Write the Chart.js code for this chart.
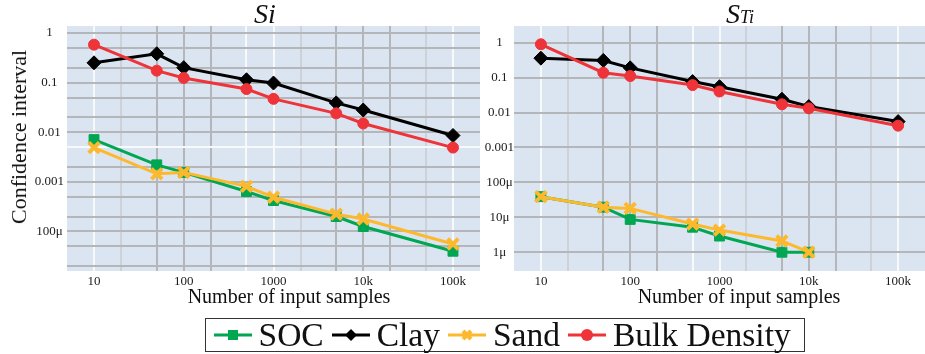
<!DOCTYPE html>
<html><head><meta charset="utf-8">
<script src="https://cdn.jsdelivr.net/npm/chart.js@4.4.1/dist/chart.umd.min.js"></script>
<style>
body{margin:0;background:#fff;width:925px;height:354px;overflow:hidden;position:relative;font-family:"Liberation Serif","Times New Roman",serif;color:#111}
canvas{position:absolute;top:0}
#c1{left:0}
#c2{left:470px}
.t{position:absolute;white-space:nowrap;line-height:1}
.title{top:0;font-size:28px;font-style:italic;transform:translateX(-50%)}
.xt{top:286px;font-size:20px;transform:translateX(-50%)}
#yt{left:19px;top:137px;font-size:22px;transform:translate(-50%,-50%) rotate(-90deg)}
#legend{position:absolute;left:205px;top:318px;width:600px;height:34px;box-sizing:border-box;border:1.5px solid #333;display:flex;align-items:center;padding-left:7.5px;font-size:33.5px;line-height:1}
#legend .it{display:flex;align-items:center;margin-right:8px}
#legend svg{margin-right:7px}
</style></head>
<body>
<canvas id="c1" width="483" height="292"></canvas>
<canvas id="c2" width="458" height="292"></canvas>
<div class="t title" style="left:265px">Si</div>
<div class="t title" style="left:740px">S<span style="font-size:18px">Ti</span></div>
<div class="t" id="yt">Confidence interval</div>
<div class="t xt" style="left:289px">Number of input samples</div>
<div class="t xt" style="left:739px">Number of input samples</div>
<div id="legend">
  <div class="it"><svg width="38" height="16"><line x1="0" y1="8" x2="38" y2="8" stroke="#00a651" stroke-width="3"/><rect x="14" y="3" width="10" height="10" fill="#00a651"/></svg><span>SOC</span></div>
  <div class="it"><svg width="38" height="16"><line x1="0" y1="8" x2="38" y2="8" stroke="#000" stroke-width="3"/><polygon points="19,2 25,8 19,14 13,8" fill="#000"/></svg><span>Clay</span></div>
  <div class="it"><svg width="38" height="16"><line x1="0" y1="8" x2="38" y2="8" stroke="#fdb92e" stroke-width="3"/><path d="M15,4 L23,12 M15,12 L23,4" stroke="#fdb92e" stroke-width="4"/></svg><span>Sand</span></div>
  <div class="it"><svg width="38" height="16"><line x1="0" y1="8" x2="38" y2="8" stroke="#ee3438" stroke-width="3"/><circle cx="19" cy="8" r="6" fill="#ee3438"/></svg><span>Bulk Density</span></div>
</div>
<script>
// ---- data ----
const sampleSizes = [10, 50, 100, 500, 1000, 5000, 10000, 100000];
const sampleSizesTiFine = [10, 50, 100, 500, 1000, 5000, 10000];
const seriesNames = ['SOC', 'Clay', 'Sand', 'Bulk Density'];

// Si panel
const siSOC  = [0.0071, 0.0022, 0.00155, 0.00064, 0.00042, 0.0002, 0.000126, 0.00004];
const siClay = [0.25, 0.38, 0.2, 0.114, 0.098, 0.039, 0.028, 0.0086];
const siSand = [0.0049, 0.00145, 0.00155, 0.00081, 0.00049, 0.000224, 0.000178, 0.000056];
const siBulk = [0.58, 0.174, 0.124, 0.074, 0.047, 0.024, 0.015, 0.0049];

// STi panel
const stiSOC  = [3.9e-5, 1.95e-5, 8.7e-6, 5.2e-6, 2.9e-6, 1.0e-6, 1.0e-6];
const stiClay = [0.36, 0.31, 0.19, 0.077, 0.055, 0.024, 0.0148, 0.0055];
const stiSand = [3.9e-5, 1.95e-5, 1.8e-5, 6.4e-6, 4.3e-6, 2.1e-6, 1.0e-6];
const stiBulk = [0.9, 0.138, 0.111, 0.061, 0.040, 0.0172, 0.0132, 0.0042];

// axis ranges and ticks
const xMin = 5, xMax = 2e5;
const xTickValues = [10, 100, 1000, 10000, 100000];
const xTickLabels = ['10', '100', '1000', '10k', '100k'];
const xGridValues = [10, 20, 50, 100, 200, 500, 1000, 2000, 5000, 10000, 20000, 50000, 100000];
const siYTickValues = [1, 0.1, 0.01, 0.001, 1e-4];
const siYTickLabels = ['1', '0.1', '0.01', '0.001', '100\u03bc'];
const siYGridValues = [1, 0.5, 0.2, 0.1, 0.05, 0.02, 0.01, 0.005, 0.002, 0.001, 5e-4, 2e-4, 1e-4, 5e-5, 2e-5];
const stiYTickValues = [1, 0.1, 0.01, 0.001, 1e-4, 1e-5, 1e-6];
const stiYTickLabels = ['1', '0.1', '0.01', '0.001', '100\u03bc', '10\u03bc', '1\u03bc'];
const stiYGridValues = [1, 0.1, 0.01, 0.001, 1e-4, 1e-5, 1e-6];

// ---- styling helpers ----
const key = v => Math.round(Math.log10(v) * 1000);
function labelMap(vals, labels) { const m = {}; vals.forEach((v, i) => m[key(v)] = labels[i]); return m; }
const DARK = '#b4b6b9', LIGHT = '#cdd2d8', WHITE = '#f7f9fb', NONE = 'rgba(0,0,0,0)';
const xGridStyle = {10: WHITE, 20: LIGHT, 50: DARK, 100: DARK, 200: DARK, 500: WHITE, 1000: WHITE, 2000: LIGHT, 5000: DARK, 10000: DARK, 20000: DARK, 50000: LIGHT, 100000: WHITE};
const colors = {SOC: '#00a651', Clay: '#000000', Sand: '#fdb92e', 'Bulk Density': '#ee3438'};
const styles = {
  SOC: {pointStyle: 'rect', pointRadius: 7, pointBorderWidth: 1, order: 3},
  Clay: {pointStyle: 'rectRot', pointRadius: 7, pointBorderWidth: 1, order: 2},
  Sand: {pointStyle: 'crossRot', pointRadius: 7.5, pointBorderWidth: 4, order: 1},
  'Bulk Density': {pointStyle: 'circle', pointRadius: 5.5, pointBorderWidth: 1, order: 0}
};

const bgPlugin = {
  id: 'bg',
  beforeDraw(chart) {
    const {ctx, chartArea: a} = chart;
    ctx.save(); ctx.fillStyle = '#dbe5f1';
    ctx.fillRect(a.left, a.top, a.right - a.left, a.bottom - a.top);
    ctx.restore();
  }
};

function ds(name, xs, ys) {
  const c = colors[name];
  return Object.assign({
    label: name,
    data: ys.map((y, i) => ({x: xs[i], y})),
    borderColor: c, backgroundColor: c,
    pointBackgroundColor: c, pointBorderColor: c,
    borderWidth: 3, tension: 0
  }, styles[name]);
}

function makeChart(id, datasets, yMin, yMax, yTickVals, yTickLabs, yGridVals, yWidth, yGridColorFn) {
  const xLab = labelMap(xTickValues, xTickLabels);
  const yLab = labelMap(yTickVals, yTickLabs);
  const font = {family: '"Liberation Serif", "Times New Roman", serif', size: 13};
  return new Chart(document.getElementById(id), {
    type: 'line',
    data: {datasets},
    plugins: [bgPlugin],
    options: {
      responsive: false, animation: false, events: [], devicePixelRatio: 1,
      layout: {autoPadding: false, padding: {top: 26, right: 0, bottom: 0, left: 0}},
      plugins: {legend: {display: false}, tooltip: {enabled: false}, title: {display: false}},
      scales: {
        x: {
          type: 'logarithmic', min: xMin, max: xMax, bounds: 'data',
          afterBuildTicks: s => { s.ticks = [xMin, ...xGridValues, xMax].map(v => ({value: v})); },
          afterFit: s => { s.height = 21; },
          ticks: {autoSkip: false, maxRotation: 0, minRotation: 0, padding: 3, color: '#1a1a1a', font,
                  callback: v => xLab[key(v)] || ''},
          grid: {color: c => (c.tick ? (xGridStyle[Math.round(c.tick.value)] || NONE) : NONE), lineWidth: 2, drawTicks: false},
          border: {display: false}
        },
        y: {
          type: 'logarithmic', min: yMin, max: yMax, bounds: 'data',
          afterBuildTicks: s => { s.ticks = yGridVals.map(v => ({value: v})); },
          afterFit: s => { s.width = yWidth; },
          ticks: {autoSkip: false, padding: yWidth > 50 ? 3 : 0, crossAlign: 'center', color: '#1a1a1a', font,
                  callback: v => yLab[key(v)] || ''},
          grid: {color: c => (c.tick ? yGridColorFn(c.tick.value) : NONE), lineWidth: 2, drawTicks: false},
          border: {display: false}
        }
      }
    }
  });
}

makeChart('c1', [
  ds('SOC', sampleSizes, siSOC),
  ds('Clay', sampleSizes, siClay),
  ds('Sand', sampleSizes, siSand),
  ds('Bulk Density', sampleSizes, siBulk)
], 1.6e-5, 1.38, siYTickValues, siYTickLabels, siYGridValues, 67,
  v => (key(v) === key(0.005) ? WHITE : DARK));

makeChart('c2', [
  ds('SOC', sampleSizesTiFine, stiSOC),
  ds('Clay', sampleSizes, stiClay),
  ds('Sand', sampleSizesTiFine, stiSand),
  ds('Bulk Density', sampleSizes, stiBulk)
], 2.9e-7, 3.0, stiYTickValues, stiYTickLabels, stiYGridValues, 44,
  v => DARK);
</script>
</body></html>
